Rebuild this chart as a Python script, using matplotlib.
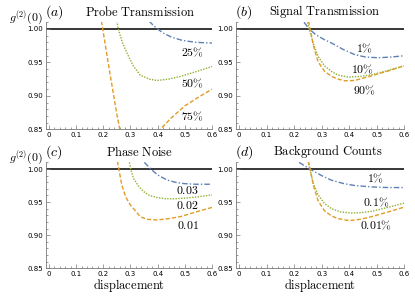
import matplotlib
matplotlib.use("Agg")
import matplotlib.pyplot as plt
import numpy as np
from matplotlib.ticker import MultipleLocator

plt.rcParams['mathtext.fontset'] = 'cm'

BLUE = '#5e81b5'
ORANGE = '#e19c24'
GREEN = '#8fb032'

# (a) probe transmission
a_75_x = [0.193, 0.205, 0.22, 0.235, 0.25, 0.263, np.nan, 0.40, 0.45, 0.50, 0.55, 0.60]
a_75_y = [1.012, 0.982, 0.944, 0.908, 0.872, 0.845, np.nan, 0.846, 0.867, 0.885, 0.898, 0.910]
a_50_x = [0.250, 0.255, 0.27, 0.287, 0.31, 0.336, 0.37, 0.397, 0.44, 0.483, 0.54, 0.60]
a_50_y = [1.012, 1.000, 0.980, 0.964, 0.945, 0.931, 0.925, 0.923, 0.925, 0.929, 0.936, 0.944]
a_25_x = [0.368, 0.385, 0.40, 0.42, 0.45, 0.49, 0.54, 0.60]
a_25_y = [1.012, 1.005, 1.000, 0.994, 0.988, 0.983, 0.980, 0.979]

# (b) signal transmission
b_1_x = [0.236, 0.255, 0.28, 0.31, 0.336, 0.38, 0.421, 0.46, 0.505, 0.55, 0.60]
b_1_y = [1.010, 1.000, 0.991, 0.984, 0.979, 0.969, 0.9615, 0.958, 0.957, 0.958, 0.960]
b_10_x = [0.249, 0.255, 0.27, 0.287, 0.31, 0.336, 0.36, 0.396, 0.44, 0.481, 0.54, 0.60]
b_10_y = [1.010, 1.000, 0.978, 0.959, 0.945, 0.9365, 0.931, 0.928, 0.929, 0.9315, 0.938, 0.945]
b_90_x = [0.252, 0.258, 0.27, 0.287, 0.31, 0.336, 0.36, 0.384, 0.42, 0.481, 0.54, 0.60]
b_90_y = [1.012, 1.000, 0.975, 0.951, 0.937, 0.929, 0.925, 0.9225, 0.923, 0.930, 0.937, 0.945]

# (c) phase noise
c_01_x = [0.252, 0.257, 0.268, 0.282, 0.299, 0.336, 0.36, 0.397, 0.44, 0.483, 0.54, 0.60]
c_01_y = [1.012, 1.000, 0.976, 0.958, 0.946, 0.928, 0.924, 0.923, 0.925, 0.928, 0.935, 0.942]
c_02_x = [0.296, 0.302, 0.311, 0.33, 0.348, 0.37, 0.397, 0.43, 0.459, 0.50, 0.55, 0.60]
c_02_y = [1.010, 0.998, 0.986, 0.974, 0.966, 0.960, 0.957, 0.955, 0.955, 0.956, 0.958, 0.961]
c_03_x = [0.351, 0.375, 0.40, 0.434, 0.465, 0.496, 0.54, 0.60]
c_03_y = [1.010, 1.000, 0.991, 0.9835, 0.980, 0.978, 0.977, 0.977]

# (d) background counts
d_1_x = [0.218, 0.257, 0.30, 0.336, 0.38, 0.421, 0.481, 0.54, 0.60]
d_1_y = [1.010, 1.000, 0.990, 0.983, 0.978, 0.975, 0.973, 0.972, 0.972]
d_01_x = [0.25, 0.257, 0.27, 0.287, 0.31, 0.336, 0.37, 0.409, 0.44, 0.481, 0.54, 0.60]
d_01_y = [1.012, 1.000, 0.978, 0.961, 0.948, 0.940, 0.935, 0.9335, 0.934, 0.936, 0.942, 0.9485]
d_001_x = [0.252, 0.258, 0.27, 0.287, 0.31, 0.336, 0.36, 0.40, 0.44, 0.481, 0.54, 0.60]
d_001_y = [1.012, 1.000, 0.975, 0.952, 0.937, 0.929, 0.925, 0.922, 0.924, 0.928, 0.935, 0.9425]

panels = [
    ("(a)", "Probe Transmission",
     [(a_25_x, a_25_y, BLUE), (a_50_x, a_50_y, GREEN), (a_75_x, a_75_y, ORANGE)],
     [("25\\%", 0.527, 0.965), ("50\\%", 0.527, 0.918), ("75\\%", 0.527, 0.869)]),
    ("(b)", "Signal Transmission",
     [(b_1_x, b_1_y, BLUE), (b_10_x, b_10_y, GREEN), (b_90_x, b_90_y, ORANGE)],
     [("1\\%", 0.455, 0.970), ("10\\%", 0.447, 0.939), ("90\\%", 0.455, 0.908)]),
    ("(c)", "Phase Noise",
     [(c_03_x, c_03_y, BLUE), (c_02_x, c_02_y, GREEN), (c_01_x, c_01_y, ORANGE)],
     [("0.03", 0.51, 0.968), ("0.02", 0.51, 0.945), ("0.01", 0.51, 0.915)]),
    ("(d)", "Background Counts",
     [(d_1_x, d_1_y, BLUE), (d_01_x, d_01_y, GREEN), (d_001_x, d_001_y, ORANGE)],
     [("1\\%", 0.496, 0.986), ("0.1\\%", 0.496, 0.949), ("0.01\\%", 0.496, 0.915)]),
]

styles = {BLUE: (0, (4, 1.5, 1, 1.5)), GREEN: (0, (1, 1)), ORANGE: (0, (3, 1.5))}

fig = plt.figure(figsize=(4.15, 2.96), dpi=100)
W, H = 415.0, 296.0
boxes = [(46, 22.3, 212, 129.3), (236, 22.3, 404.3, 129.3),
         (46, 162.4, 212, 268.3), (236, 162.4, 404.3, 268.3)]
title_x = [140, 325, 140, 328]

for i, (tag, title, curves, labels) in enumerate(panels):
    l, t, r, b = boxes[i]
    top = i < 2
    ax = fig.add_axes([l / W, 1 - b / H, (r - l) / W, (b - t) / H])
    ax.axhline(1.0, color='black', lw=1.1, zorder=1)
    for x, y, c in curves:
        ax.plot(x, y, color=c, lw=1.0, linestyle=styles[c], zorder=2)
    for txt, lx, ly in labels:
        ax.text(lx, ly, "$" + txt + "$", fontsize=8.5, ha='center', va='center')
    ax.set_xlim(-0.011, 0.6)
    ax.set_ylim(0.85, 1.01)
    ax.xaxis.set_major_locator(MultipleLocator(0.1))
    ax.xaxis.set_minor_locator(MultipleLocator(0.02))
    ax.yaxis.set_major_locator(MultipleLocator(0.05))
    ax.yaxis.set_minor_locator(MultipleLocator(0.01))
    ax.xaxis.set_major_formatter(plt.FuncFormatter(lambda v, p: "0" if abs(v) < 1e-9 else f"{v:.1f}"))
    ax.yaxis.set_major_formatter(plt.FuncFormatter(lambda v, p: f"{v:.2f}"))
    ax.tick_params(which='both', direction='in', labelsize=5, color='#777777', width=0.5, pad=2)
    ax.tick_params(which='major', length=3)
    ax.tick_params(which='minor', length=1.5)
    for s in ['top', 'right']:
        ax.spines[s].set_visible(False)
    for s in ['left', 'bottom']:
        ax.spines[s].set_color('#777777')
        ax.spines[s].set_linewidth(0.6)
    fig.text((l - 1) / W, 1 - (12 if top else 152) / H, "$" + tag + "$",
             fontsize=10, ha='left', va='center')
    fig.text(title_x[i] / W, 1 - (12 if top else 152) / H,
             "$\\mathrm{" + title.replace(" ", "\\ ") + "}$", fontsize=9, ha='center', va='center')
    if i % 2 == 0:
        fig.text(9 / W, 1 - (18 if top else 158) / H, "$g^{(2)}(0)$",
                 fontsize=8.5, ha='left', va='center')
    if not top:
        fig.text((l + r) / 2 / W, 1 - 285 / H, "$\\mathrm{displacement}$", fontsize=9,
                 ha='center', va='center')

fig.savefig("out.png", dpi=100)
